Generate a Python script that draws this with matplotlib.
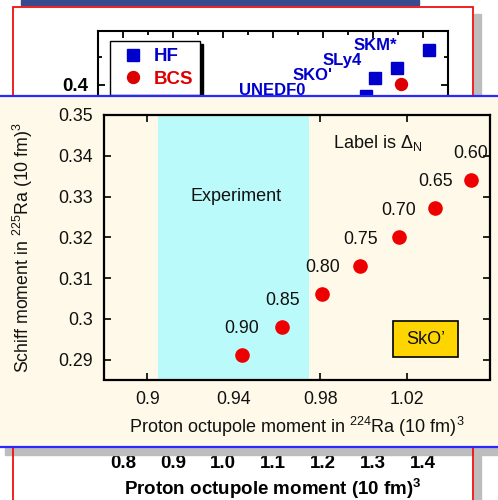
import matplotlib
matplotlib.use("Agg")
import matplotlib.pyplot as plt
from matplotlib.patches import Rectangle
from matplotlib.ticker import MultipleLocator, FormatStrFormatter

plt.rcParams["font.family"] = ["Liberation Sans", "DejaVu Sans"]
plt.rcParams["mathtext.fontset"] = "custom"
plt.rcParams["mathtext.rm"] = "Liberation Sans"
plt.rcParams["mathtext.it"] = "Liberation Sans:italic"
plt.rcParams["mathtext.bf"] = "Liberation Sans:bold"

# background slide: HF / BCS Schiff moments vs octupole moment
hf_x = [1.286, 1.304, 1.348, 1.412]
hf_y = [0.390, 0.406, 0.415, 0.431]
hf_names = ["UNEDF0", "SKO'", "SLy4", "SKM*"]
bcs_x = [1.355]
bcs_y = [0.401]

# inset: SkO' with varying pairing strength Delta_N
delta_labels = ["0.60", "0.65", "0.70", "0.75", "0.80", "0.85", "0.90"]
octupole = [1.0497, 1.0333, 1.0163, 0.9986, 0.9810, 0.9624, 0.9438]
schiff = [0.3341, 0.3272, 0.3201, 0.3130, 0.3062, 0.2981, 0.2912]
exp_band = (0.905, 0.975)

W, H = 498, 500
NAVY = "#374a8e"
RED = "#f01010"
GRAY = "#bdbdbd"
CREAM = "#fef9e8"
CYAN = "#bbfafa"
BLUE = "#0000cc"
INK = "#111111"


def fx(px):
    return px / W


def fy(py):
    return 1 - py / H


fig = plt.figure(figsize=(W / 100, H / 100), dpi=100)
fig.patch.set_facecolor("white")

# ---- slide decorations behind the inset ----
fig.patches.append(Rectangle((fx(21), fy(5)), (419 - 21) / W, 5 / H,
                             transform=fig.transFigure, color=NAVY, zorder=0.5))
fig.patches.append(Rectangle((fx(474), fy(500)), 7 / W, (500 - 14) / H,
                             transform=fig.transFigure, color=GRAY, zorder=0.5))
fig.patches.append(Rectangle((fx(5), fy(455)), 1, 8 / H,
                             transform=fig.transFigure, color=GRAY, zorder=0.6))
fig.patches.append(Rectangle((fx(13), fy(520)), (473 - 13) / W, (520 - 7) / H,
                             transform=fig.transFigure, fill=False,
                             edgecolor=RED, lw=1.3, zorder=0.7))

# ---- background axes ----
bg = fig.add_axes([fx(98), fy(449), (448 - 98) / W, (449 - 31) / H], zorder=0)
bg.plot(hf_x, hf_y, "s", color=BLUE, ms=9, label="HF", ls="none")
bg.plot(bcs_x, bcs_y, "o", color="#dd0000", ms=8.6, label="BCS", ls="none")
name_offsets = [(-94, 5), (-62, 3), (-55, 7), (-54, 5)]
for x, y, name, off in zip(hf_x, hf_y, hf_names, name_offsets):
    bg.annotate(name, (x, y), xytext=off, textcoords="offset pixels",
                ha="center", va="center", color=BLUE, fontsize=12,
                fontweight="bold")
bg.set_xlim(0.75, 1.45)
bg.set_ylim(0.075, 0.448)
bg.xaxis.set_major_locator(MultipleLocator(0.1))
bg.xaxis.set_minor_locator(MultipleLocator(0.05))
bg.xaxis.set_major_formatter(FormatStrFormatter("%.1f"))
# only the 0.4 label shows above the inset
bg.set_yticks([0.4])
bg.yaxis.set_major_formatter(FormatStrFormatter("%.1f"))
bg.yaxis.set_minor_locator(MultipleLocator(0.025))
bg.tick_params(which="both", direction="in", top=True, right=True, width=1.3)
bg.tick_params(which="major", length=5, labelsize=13.5, pad=4)
bg.tick_params(which="minor", length=3)
bg.tick_params(axis="y", pad=7)
for lab in bg.get_xticklabels() + bg.get_yticklabels():
    lab.set_fontweight("bold")
for s in bg.spines.values():
    s.set_linewidth(1.5)
bg.set_xlabel(r"Proton octupole moment (10 fm)$^{\mathbf{3}}$",
              fontsize=13.5, fontweight="bold")
bg.xaxis.set_label_coords(0.5, -0.066)
leg = bg.legend(loc="upper left", bbox_to_anchor=(0.034, 0.976),
                borderaxespad=0, fancybox=False, edgecolor="black",
                framealpha=1, shadow={"color": "black", "alpha": 1},
                prop={"weight": "bold", "size": 13.5}, handlelength=1.75,
                handletextpad=0.2, labelspacing=0.3, borderpad=0.38,
                numpoints=1)
leg.get_frame().set_linewidth(1.0)
for txt, c in zip(leg.get_texts(), [BLUE, "#dd0000"]):
    txt.set_color(c)

# ---- inset panel ----
panel = fig.add_axes([0, fy(447), 1, (447 - 96) / H], zorder=2)
panel.set_facecolor(CREAM)
panel.set_xticks([])
panel.set_yticks([])
for side in ["left", "right"]:
    panel.spines[side].set_visible(False)
for side in ["top", "bottom"]:
    panel.spines[side].set_color("#2828ff")
    panel.spines[side].set_linewidth(1.6)

ax = fig.add_axes([fx(104), fy(379.5), (490 - 104) / W, (379.5 - 115) / H],
                  zorder=3)
ax.set_facecolor(CREAM)
ax.axvspan(*exp_band, color=CYAN, lw=0, zorder=2.55)
ax.plot(octupole, schiff, "o", color="#ee0000", ms=9.5, ls="none", zorder=4)
for x, y, lab in zip(octupole, schiff, delta_labels):
    ax.annotate(lab, (x, y), xytext=(0, 26), textcoords="offset pixels",
                ha="center", va="center", fontsize=12.8, color=INK,
                zorder=5)
ax.text(0.9411, 0.3299, "Experiment", ha="center", va="center",
        fontsize=13, color=INK, zorder=5)
ax.text(1.0065, 0.3431, r"Label is Δ$_{\mathrm{N}}$", ha="center",
        va="center", fontsize=13, color=INK, zorder=5)
ax.add_patch(Rectangle((0.7487, 0.085), 0.1684, 0.136, transform=ax.transAxes,
                       facecolor="#ffd500", edgecolor="black", lw=1.2,
                       zorder=5))
ax.text(0.833, 0.153, "SkO\u2019", transform=ax.transAxes, ha="center",
        va="center", fontsize=13, color=INK, zorder=6)
ax.set_xlim(0.88, 1.0586)
ax.set_ylim(0.2851, 0.35)
ax.set_xticks([0.9, 0.94, 0.98, 1.02])
ax.set_yticks([0.29, 0.30, 0.31, 0.32, 0.33, 0.34, 0.35])
ax.xaxis.set_major_formatter(FormatStrFormatter("%g"))
ax.yaxis.set_major_formatter(FormatStrFormatter("%g"))
ax.tick_params(direction="in", top=True, right=True, length=5, width=1.2,
               labelsize=12.8, pad=8, labelcolor=INK)
for s in ax.spines.values():
    s.set_linewidth(1.6)
    s.set_zorder(3)
ax.set_xlabel(r"Proton octupole moment in $^{\mathrm{224}}$Ra (10 fm)$^{\mathrm{3}}$",
              fontsize=13, color=INK)
ax.xaxis.set_label_coords(0.5, -0.135)
ax.set_ylabel(r"Schiff moment in $^{\mathrm{225}}$Ra (10 fm)$^{\mathrm{3}}$",
              fontsize=12.8, color=INK)
ax.yaxis.set_label_coords(-0.18, 0.5)

fig.savefig("out.png", dpi=100, facecolor="white")
